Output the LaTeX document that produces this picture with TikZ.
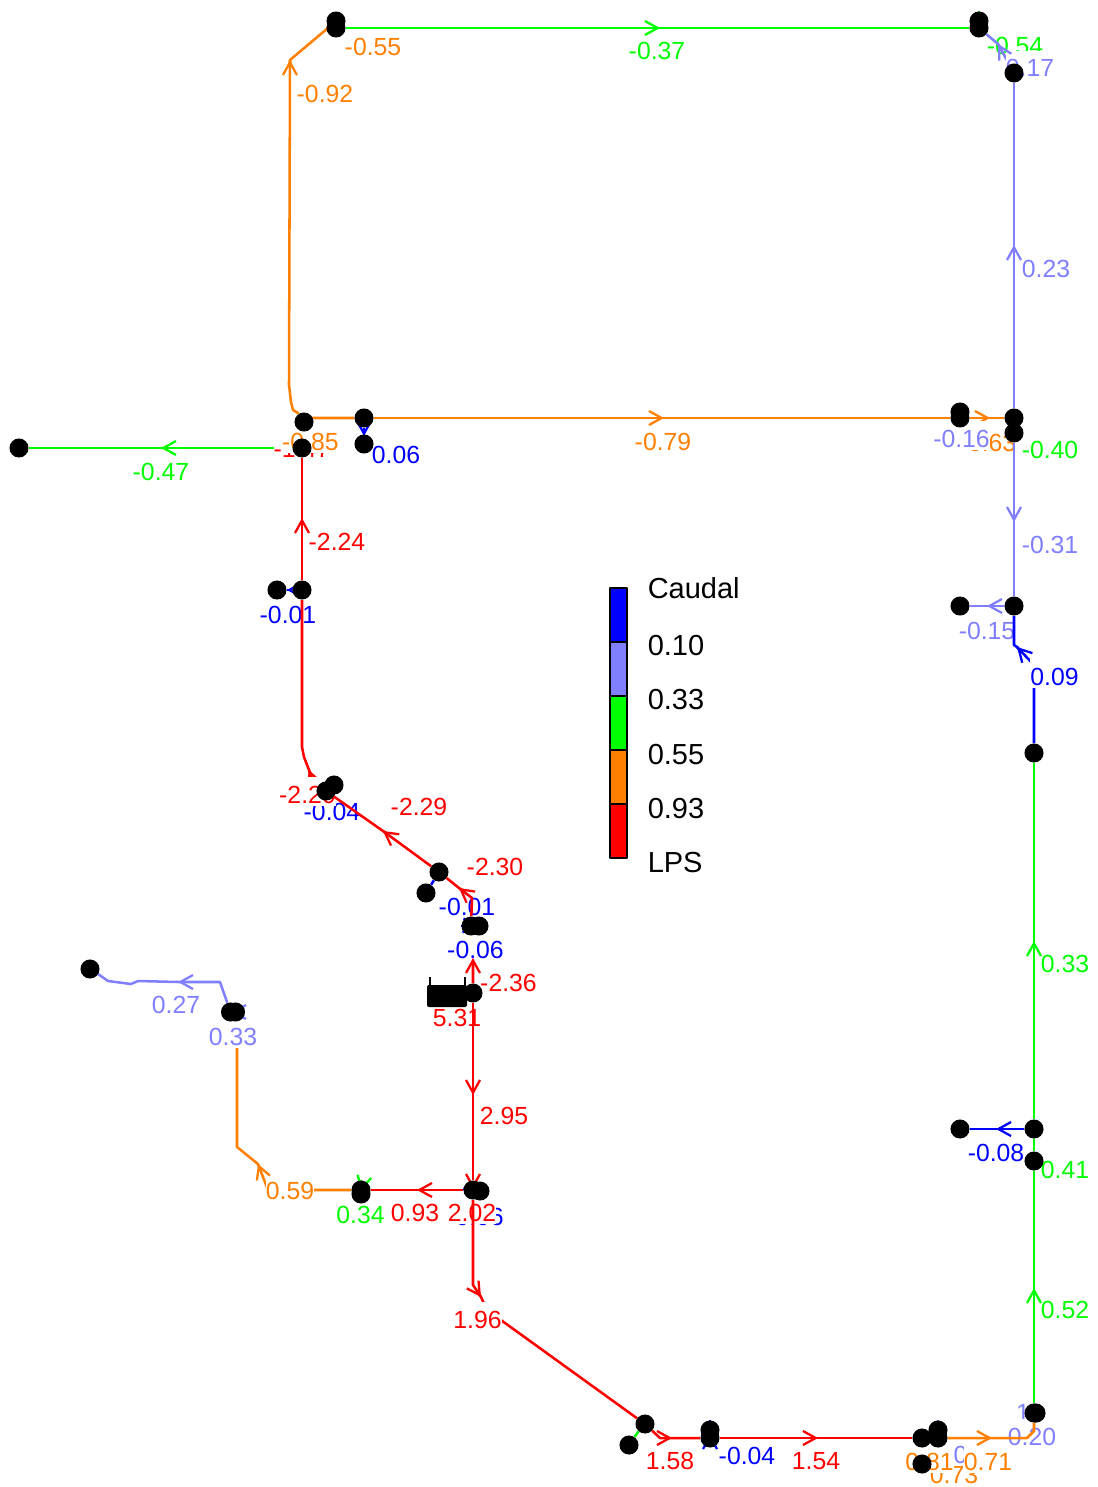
\documentclass[tikz,border=0pt]{standalone}
\usepackage{fontspec}
\setmainfont{Liberation Sans}
\usetikzlibrary{arrows.meta,calc}
\pgfdeclarelayer{dots}
\pgfsetlayers{main,dots}
\definecolor{cb}{RGB}{0,0,255}
\definecolor{cl}{RGB}{128,128,255}
\definecolor{cg}{RGB}{0,255,0}
\definecolor{co}{RGB}{255,128,0}
\definecolor{cr}{RGB}{255,0,0}
\tikzset{
  dot/.style={circle,fill=black,draw=none,inner sep=0pt,minimum size=14.3pt},
  pipe/.style={line width=1.9pt,line join=round},
  hd/.style={-{Straight Barb[length=9.5pt,width=10.5pt,line width=1.7pt]}},
  lbl/.style={fill=white,inner sep=0pt,anchor=base,text height=19.5pt,text depth=2.25pt,font=\fontsize{18.6}{20}\selectfont},
  leg/.style={inner sep=0pt,anchor=base west,font=\fontsize{21.75}{24}\selectfont,text=black},
  bar/.style={draw=black,line width=1.5pt,line join=round}
}
\newcommand\elab[5]{\node[lbl,text=#4] (#1) at (#2,#3) {#5};}
\newcommand\ahd[3]{\draw[pipe,#1,hd] ($(#3)!0.5pt!(#2)$) -- (#3);}
\begin{document}
\begin{tikzpicture}[x=0.75pt,y=-0.75pt]
\useasboundingbox (0,0) rectangle (1097,1487);
\begin{pgfonlayer}{dots}
\node[dot] (A1) at (336,21) {}; \node[dot] (A2) at (336,28) {};
\node[dot] (B1) at (979,21) {}; \node[dot] (B2) at (979,28) {};
\node[dot] (C) at (1014,73) {};
\node[dot] (D) at (304,422) {}; \node[dot] (E) at (302,448) {};
\node[dot] (F1) at (364,418) {}; \node[dot] (F2) at (364,444) {};
\node[dot] (G) at (19,448) {};
\node[dot] (H1) at (960,412) {}; \node[dot] (H2) at (960,418) {};
\node[dot] (I1) at (1014,418) {}; \node[dot] (I2) at (1014,433) {};
\node[dot] (J1) at (277,590) {}; \node[dot] (J2) at (302,590) {};
\node[dot] (K1) at (960,606) {}; \node[dot] (K2) at (1014,606) {};
\node[dot] (L) at (1034,753) {};
\node[dot] (M1) at (334,785) {}; \node[dot] (M2) at (326,791) {};
\node[dot] (N1) at (439,872) {}; \node[dot] (N2) at (426,893) {};
\node[dot] (O1) at (471,926) {}; \node[dot] (O2) at (479,926) {};
\node[dot] (P) at (473,993) {};
\node[fill=black,inner sep=0pt,rounded corners=1.5pt,minimum width=30pt,minimum height=16.5pt] (tank) at (447,996) {};
\draw[line width=1.5pt] (tank.north west) ++(3,1) -- ++(0,-9);
\draw[line width=1.5pt] (tank.north east) ++(-2,1) -- ++(0,-9);
\node[dot] (Q1) at (473,1190) {}; \node[dot] (Q2) at (480,1191) {};
\node[dot] (R1) at (361,1190) {}; \node[dot] (R2) at (361,1194) {};
\node[dot] (S1) at (230.5,1012) {}; \node[dot] (S2) at (235.5,1012) {};
\node[dot] (T) at (90,969) {};
\node[dot] (U1) at (645,1424) {}; \node[dot] (U2) at (629,1445) {};
\node[dot] (V1) at (710,1430) {}; \node[dot] (V2) at (710,1438) {};
\node[dot] (W1) at (922,1438) {}; \node[dot] (W2) at (938,1430) {}; \node[dot] (W3) at (938,1438) {};
\node[dot] (W4) at (922,1464) {};
\node[dot] (X1) at (1034,1413) {}; \node[dot] (X2) at (1036,1413) {};
\node[dot] (Y1) at (1034,1129) {}; \node[dot] (Y2) at (960,1129) {}; \node[dot] (Y3) at (1034,1161) {};
\end{pgfonlayer}
% tips and bends
\coordinate (t37) at (660,28);
\coordinate (t17) at (998,44);
\coordinate (t79) at (664,418);
\coordinate (t63) at (990,418);
\coordinate (b1) at (298,413);
\coordinate (b1a) at (293,410);
\coordinate (b1b) at (291,402);
\coordinate (b2) at (289,385);
\coordinate (b22) at (310,418);
\coordinate (t92) at (290,60);
\coordinate (b3) at (328,28);
\coordinate (t06) at (364,436);
\coordinate (t47) at (161,448);
\coordinate (t224) at (302,518);
\coordinate (b4) at (302,747);
\coordinate (b5) at (304,757);
\coordinate (t220) at (309,770);
\coordinate (b23) at (312.5,780);
\coordinate (t229) at (383,831);
\coordinate (b7) at (472,898);
\coordinate (t230) at (459,888);
\coordinate (t236) at (473,958);
\coordinate (t295) at (473,1095);
\coordinate (t296) at (473,1189);
\coordinate (b8) at (473,1285);
\coordinate (t196) at (481,1297);
\coordinate (b24) at (487,1310);
\coordinate (t93) at (417,1190);
\coordinate (t34) at (361,1191);
\coordinate (b26) at (364,1178);
\coordinate (b9) at (268,1190);
\coordinate (t59) at (258,1164);
\coordinate (b10) at (237,1147);
\coordinate (b25) at (237,1020);
\coordinate (t33l) at (231,1012);
\coordinate (b11) at (220,982);
\coordinate (t27) at (178,982);
\coordinate (b12) at (138,981);
\coordinate (b13) at (131,984);
\coordinate (b14) at (108,981);
\coordinate (b15) at (98,974);
\coordinate (b16) at (660,1438);
\coordinate (t158) at (672,1438);
\coordinate (t04) at (710,1434);
\coordinate (t154) at (818,1438);
\coordinate (b17) at (638,1432);
\coordinate (t71) at (992,1438);
\coordinate (b18) at (1027,1438);
\coordinate (b19) at (1034,1431);
\coordinate (t52) at (1034,1288);
\coordinate (t33) at (1034,941);
\coordinate (t08) at (996,1129);
\coordinate (b20) at (1034,665);
\coordinate (t09) at (1017,647);
\coordinate (b21) at (1014,645);
\coordinate (t15) at (987,606);
\coordinate (t31) at (1014,522);
\coordinate (t23) at (1014,245);
\coordinate (t006) at (478,926.5);
\coordinate (t01) at (287,590);
% upper loop
\draw[pipe,cg] (A2) -- (t37) -- (B2);
\elab{l37}{657}{60}{cg}{-0.37}
\ahd{cg}{A2}{t37}
\draw[pipe,co] (A1) -- (b3);
\elab{l55}{373}{56}{co}{-0.55}
\draw[pipe,co] (D) -- (b1) -- (b1a) -- (b1b) -- (b2) -- (t92) -- (b3) -- (A2);
\elab{l92}{325}{103}{co}{-0.92}
\ahd{co}{b2}{t92}
\draw[pipe,cg] (B1) -- (B2);
\elab{l54}{1015}{55}{cg}{-0.54}
\draw[pipe,cl] (C) -- (t17) -- (B2);
\elab{l17}{1030}{77}{cl}{0.17}
\ahd{cl}{C}{t17}
\draw[pipe,cl] (I1) -- (t23) -- (C);
\elab{l23}{1046}{277}{cl}{0.23}
\ahd{cl}{I1}{t23}
\draw[pipe,co] (F1) -- (t79) -- (H2);
\elab{l79}{663}{450}{co}{-0.79}
\ahd{co}{F1}{t79}
\draw[pipe,co] (D) -- (b22) -- (F1);
\draw[pipe,cb] (F1) -- (F2);
\elab{l06}{396}{463}{cb}{0.06}
\ahd{cb}{F1}{t06}
\draw[pipe,co] (H2) -- (t63) -- (I1);
\elab{l63}{988}{451}{co}{-0.63}
\ahd{co}{H2}{t63}
\elab{l16}{961.5}{447}{cl}{-0.16}
\draw[pipe,cg] (I1) -- (I2);
\elab{l40}{1050}{458}{cg}{-0.40}
\draw[pipe,cl] (I2) -- (t31) -- (K2);
\elab{l31}{1050}{553}{cl}{-0.31}
\ahd{cl}{I2}{t31}
\draw[pipe,cl] (K2) -- (t15) -- (K1);
\elab{l15}{987}{639}{cl}{-0.15}
\ahd{cl}{K2}{t15}
\draw[pipe,cb] (L) -- (b20) -- (t09) -- (b21) -- (K2);
\elab{l09}{1054.5}{685}{cb}{0.09}
\ahd{cb}{b20}{t09}
% left branch
\draw[pipe,cg] (E) -- (t47) -- (G);
\elab{l47}{161}{480}{cg}{-0.47}
\ahd{cg}{E}{t47}
\draw[pipe,cr] (E) -- (D);
\elab{l147}{302}{457}{cr}{-1.47}
\elab{l85}{310.5}{450}{co}{-0.85}
\draw[pipe,cb] (J1) -- (J2);
\elab{l01}{288}{623}{cb}{-0.01}
\ahd{cb}{J2}{t01}
\draw[pipe,cr] (J2) -- (t224) -- (E);
\elab{l224}{337}{550}{cr}{-2.24}
\ahd{cr}{J2}{t224}
\draw[pipe,cb] (M1) -- (M2);
\elab{l04a}{332}{820}{cb}{-0.04}
\draw[pipe,cr] (M2) -- (b23) -- (t220) -- (b5) -- (b4) -- (J2);
\ahd{cr}{b23}{t220}
\elab{l220}{307.5}{803}{cr}{-2.20}
\draw[pipe,cr] (N1) -- (t229) -- (M2);
\elab{l229}{419}{815}{cr}{-2.29}
\ahd{cr}{N1}{t229}
\draw[pipe,cb] (N1) -- (N2);
\elab{l001}{467}{915}{cb}{-0.01}
\draw[pipe,cr] (O1) -- (b7) -- (t230) -- (N1);
\elab{l230}{495}{875}{cr}{-2.30}
\ahd{cr}{b7}{t230}
\draw[pipe,cr] (P) -- (t236) -- (O1);
\draw[pipe,cb] (O1) -- (O2);
\elab{l006}{475.5}{958}{cb}{-0.06}
\ahd{cb}{O1}{t006}
\elab{l236}{508.5}{991}{cr}{-2.36}
\ahd{cr}{P}{t236}
\elab{l531}{457}{1026}{cr}{5.31}
\draw[pipe,cr] (P) -- (t295) -- (Q1);
\elab{l295}{504}{1124}{cr}{2.95}
\ahd{cr}{P}{t295}
\ahd{cr}{P}{t296}
\draw[pipe,cb] (Q1) -- (Q2);
\elab{l06b}{475.5}{1225}{cb}{-0.06}
\elab{l202}{472}{1221}{cr}{2.02}
\draw[pipe,cr] (Q1) -- (b8) -- (t196) -- (b24) -- (U1);
\elab{l196}{477.5}{1328}{cr}{1.96}
\ahd{cr}{b8}{t196}
\draw[pipe,cr] (Q1) -- (t93) -- (R1);
\elab{l93}{415}{1221}{cr}{0.93}
\ahd{cr}{Q1}{t93}
\draw[pipe,cg] (R1) -- (R2);
\elab{l34}{360.5}{1223}{cg}{0.34}
\ahd{cg}{b26}{t34}
\draw[pipe,co] (R1) -- (b9) -- (t59) -- (b10) -- (b25) -- (S2);
\elab{l59}{290}{1199}{co}{0.59}
\ahd{co}{b9}{t59}
\draw[pipe,cl] (S1) -- (S2);
\elab{l33l}{233}{1045}{cl}{0.33}
\ahd{cl}{S2}{t33l}
\draw[pipe,cl] (S1) -- (b11) -- (t27) -- (b12) -- (b13) -- (b14) -- (b15) -- (T);
\elab{l27}{176}{1013}{cl}{0.27}
\ahd{cl}{b11}{t27}
% bottom run
\draw[pipe,cg] (U2) -- (b17) -- (U1);
\draw[pipe,cr] (U1) -- (b16) -- (t158) -- (V2);
\elab{l158}{670}{1469}{cr}{1.58}
\ahd{cr}{b16}{t158}
\draw[pipe,cb] (V1) -- (V2);
\elab{l04}{747}{1464}{cb}{-0.04}
\ahd{cb}{V2}{t04}
\draw[pipe,cr] (V2) -- (t154) -- (W1);
\elab{l154}{816}{1469}{cr}{1.54}
\ahd{cr}{V2}{t154}
\draw[pipe,co] (W1) -- (W4);
\elab{l73}{954}{1483}{co}{0.73}
\draw[pipe,co] (W1) -- (W3);
\elab{l81}{929.5}{1470}{co}{0.81}
\draw[pipe,cl] (W2) -- (W3);
\elab{lz}{960.5}{1463}{cl}{0}
\elab{lo}{1023}{1421}{cl}{1}
\elab{l20}{1032}{1445}{cl}{0.20}
\elab{l71}{988}{1470}{co}{0.71}
\draw[pipe,co] (W3) -- (t71) -- (b18) -- (b19) -- (X1);
\ahd{co}{W3}{t71}
% right column
\draw[pipe,cg] (X1) -- (t52) -- (Y3);
\elab{l52}{1065}{1318}{cg}{0.52}
\ahd{cg}{X1}{t52}
\draw[pipe,cg] (Y3) -- (Y1);
\elab{l41}{1065}{1178}{cg}{0.41}
\draw[pipe,cb] (Y1) -- (t08) -- (Y2);
\elab{l08}{996}{1161}{cb}{-0.08}
\ahd{cb}{Y1}{t08}
\draw[pipe,cg] (Y1) -- (t33) -- (L);
\elab{l33}{1065}{972}{cg}{0.33}
\ahd{cg}{Y1}{t33}
% legend
\draw[bar,fill=cb] (610,587.5) rectangle (627,642);
\draw[bar,fill=cl] (610,642) rectangle (627,696);
\draw[bar,fill=cg] (610,696) rectangle (627,750);
\draw[bar,fill=co] (610,750) rectangle (627,804);
\draw[bar,fill=cr] (610,804) rectangle (627,858);
\node[leg] (cap) at (647.5,598) {Caudal};
\node[leg] (v1) at (647.5,655) {0.10};
\node[leg] (v2) at (647.5,709) {0.33};
\node[leg] (v3) at (647.5,764) {0.55};
\node[leg] (v4) at (647.5,818) {0.93};
\node[leg] (v5) at (647.5,872) {LPS};
\end{tikzpicture}
\end{document}
